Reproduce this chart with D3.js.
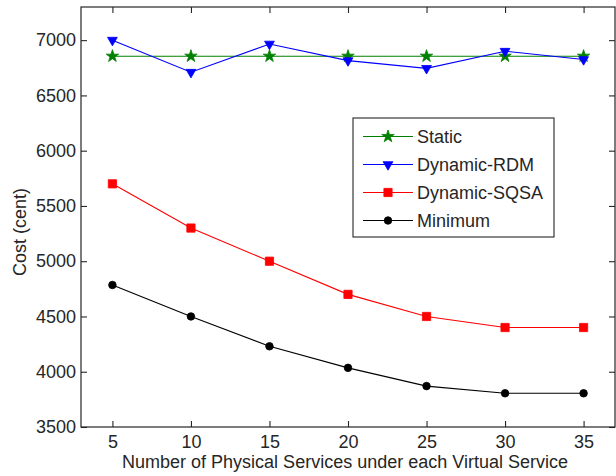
<!DOCTYPE html>
<html><head><meta charset="utf-8">
<script src="https://cdn.jsdelivr.net/npm/d3@7"></script>
<style>
html,body{margin:0;padding:0;background:#fff;}
svg{display:block;font-family:"Liberation Sans",Arial,sans-serif;}
</style></head>
<body>
<svg id="c" width="616" height="476"></svg>
<script>
const xValues = [5, 10, 15, 20, 25, 30, 35];
const seriesNames = ["Static", "Dynamic-RDM", "Dynamic-SQSA", "Minimum"];
const staticCost = [6855, 6855, 6855, 6855, 6855, 6855, 6855];
const rdmCost = [7000, 6710, 6965, 6815, 6745, 6900, 6825];
const sqsaCost = [5700, 5300, 5000, 4700, 4500, 4400, 4400];
const minimumCost = [4785, 4500, 4230, 4035, 3870, 3805, 3805];
const xTicks = [5, 10, 15, 20, 25, 30, 35];
const yTicks = [3500, 4000, 4500, 5000, 5500, 6000, 6500, 7000];
const xLabel = "Number of Physical Services under each Virtual Service";
const yLabel = "Cost (cent)";

const svg = d3.select("#c");
const L = 81, R = 615, T = 7, B = 427;
const FS = 18;
const x = d3.scaleLinear().domain([3, 37]).range([L, R]);
const y = d3.scaleLinear().domain([3500, 7300]).range([B, T]);
const textCol = "#262626";

const g = svg.append("g");
g.append("rect").attr("x", L).attr("y", T).attr("width", R - L).attr("height", B - T)
  .attr("fill", "none").attr("stroke", "#262626").attr("stroke-width", 1.2);

const fmt = d3.format("d");
const ax = [
  d3.axisBottom(x).tickValues(xTicks).tickSizeInner(-6).tickSizeOuter(0).tickPadding(8).tickFormat(fmt),
  d3.axisTop(x).tickValues(xTicks).tickSizeInner(-6).tickSizeOuter(0).tickFormat(""),
  d3.axisLeft(y).tickValues(yTicks).tickSizeInner(-6).tickSizeOuter(0).tickPadding(5).tickFormat(fmt),
  d3.axisRight(y).tickValues(yTicks).tickSizeInner(-6).tickSizeOuter(0).tickFormat("")
];
const tr = [`translate(0,${B})`, `translate(0,${T})`, `translate(${L},0)`, `translate(${R},0)`];
ax.forEach((a, i) => {
  const ag = g.append("g").attr("transform", tr[i]).call(a)
    .attr("font-size", FS).attr("font-family", "Liberation Sans, Arial, sans-serif");
  ag.select(".domain").remove();
  ag.selectAll("line").attr("stroke", "#262626").attr("stroke-width", 1.1);
  ag.selectAll("text").attr("fill", textCol);
});

svg.append("text").attr("x", 345).attr("y", 468).attr("text-anchor", "middle")
  .attr("font-size", FS).attr("fill", textCol).text(xLabel);
svg.append("text").attr("transform", "translate(26,232) rotate(-90)").attr("text-anchor", "middle")
  .attr("font-size", FS).attr("fill", textCol).text(yLabel);

const series = [
  {name: seriesNames[0], vals: staticCost, color: "#008000", sym: d3.symbolStar, size: 48, rot: 0},
  {name: seriesNames[1], vals: rdmCost, color: "#0000ff", sym: d3.symbolTriangle, size: 42, rot: 180},
  {name: seriesNames[2], vals: sqsaCost, color: "#ff0000", sym: d3.symbolSquare, size: 68, rot: 0},
  {name: seriesNames[3], vals: minimumCost, color: "#000000", sym: d3.symbolCircle, size: 45, rot: 0}
];
const line = d3.line().x((d, i) => x(xValues[i])).y(d => y(d));
series.forEach(s => {
  svg.append("path").attr("d", line(s.vals)).attr("fill", "none")
    .attr("stroke", s.color).attr("stroke-width", 1.1);
  svg.selectAll(null).data(s.vals).enter().append("path")
    .attr("d", d3.symbol().type(s.sym).size(s.size))
    .attr("transform", (d, i) => `translate(${x(xValues[i])},${y(d)}) rotate(${s.rot})`)
    .attr("fill", s.color).attr("stroke", s.color).attr("stroke-width", 0.8);
});

const lg = svg.append("g");
lg.append("rect").attr("x", 353).attr("y", 118).attr("width", 201).attr("height", 119)
  .attr("fill", "#fff").attr("stroke", "#262626").attr("stroke-width", 1.1);
const rowY = [136.5, 164.5, 192.5, 220.5];
series.forEach((s, i) => {
  lg.append("line").attr("x1", 363).attr("x2", 413).attr("y1", rowY[i]).attr("y2", rowY[i])
    .attr("stroke", s.color).attr("stroke-width", 1.1);
  lg.append("path").attr("d", d3.symbol().type(s.sym).size(s.size))
    .attr("transform", `translate(388,${rowY[i]}) rotate(${s.rot})`)
    .attr("fill", s.color).attr("stroke", s.color).attr("stroke-width", 0.8);
  lg.append("text").attr("x", 417).attr("y", rowY[i]).attr("dy", "0.35em")
    .attr("font-size", FS).attr("fill", textCol).text(s.name);
});
</script>
</body></html>
